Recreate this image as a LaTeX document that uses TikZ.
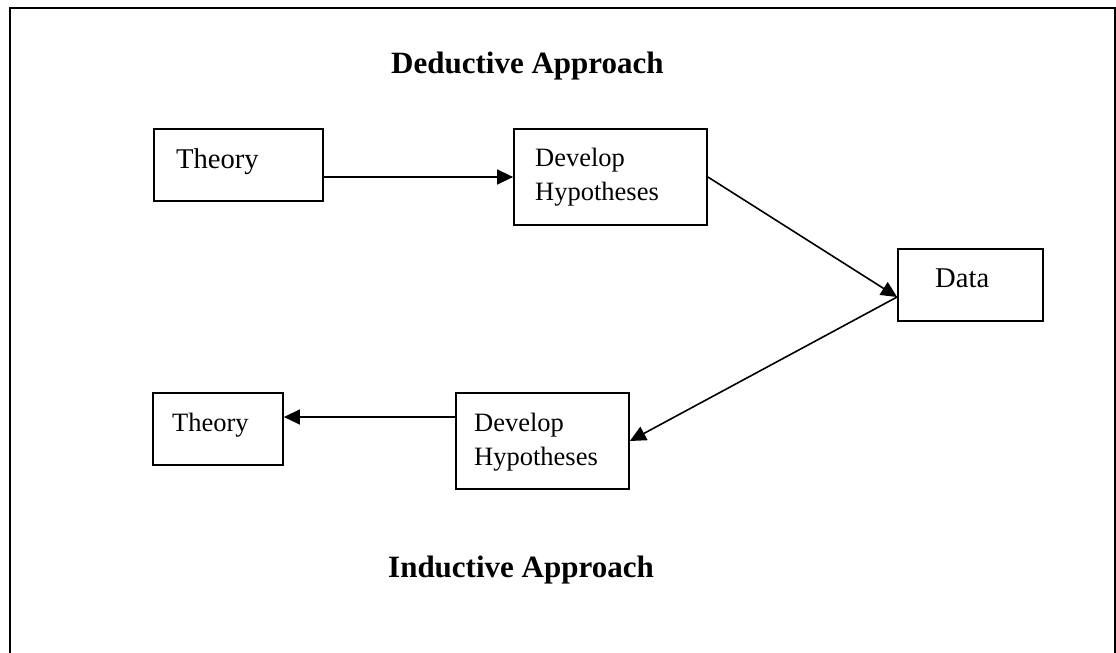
\documentclass[tikz,border=0pt]{standalone}
\usepackage{fontspec}
\setmainfont{Liberation Serif}
\usetikzlibrary{arrows.meta}
\begin{document}
\begin{tikzpicture}[x=1pt,y=-1pt,
  box/.style={draw=black,line width=1.8pt,rectangle,inner sep=0pt},
  lbl/.style={inner sep=0pt,anchor=base west,align=left,
    font=\fontsize{26.5}{34}\selectfont},
  biglbl/.style={lbl,font=\fontsize{28.6}{34}\selectfont},
  heading/.style={inner sep=0pt,anchor=base west,
    font=\fontsize{31}{36}\selectfont\bfseries},
  link/.style={line width=1.6pt,-{Triangle[length=16pt,width=15pt]}},
  plain/.style={line width=1.6pt}]
\useasboundingbox (0,0) rectangle (1116,653);
\begin{scope}
  \clip (0,0) rectangle (1116,653);
  % outer frame, open at the bottom edge
  \draw[line width=2.2pt] (10,720) -- (10,8) -- (1115,8) -- (1115,720);
\end{scope}

% boxes
\node[box,minimum width=169pt,minimum height=72pt] (th1) at (238.5,165) {};
\node[box,minimum width=193pt,minimum height=96pt] (dev1) at (610.5,177) {};
\node[box,minimum width=145pt,minimum height=72pt] (data) at (970.5,285) {};
\node[box,minimum width=173pt,minimum height=96pt] (dev2) at (542.5,441) {};
\node[box,minimum width=130pt,minimum height=72pt] (th2) at (218,429) {};

% texts (multi-line labels are placed by the baseline of their last line)
\node[heading] (tdeduct) at (391,73) {Deductive Approach};
\node[heading] (tinduct) at (388,577) {Inductive Approach};
\node[biglbl] (l1) at (176,168) {Theory};
\node[lbl] (l2) at (535,200) {Develop\\Hypotheses};
\node[biglbl] (l3) at (935,287) {Data};
\node[lbl] (l4) at (474,465) {Develop\\Hypotheses};
\node[lbl] (l5) at (172,431) {Theory};

% connectors
\coordinate (dj) at ([yshift=-12pt]data.west);
\draw[link] (th1.east |- dev1.west) -- (dev1.west);
\draw[link] (dev1.east) -- (dj);
\draw[link] (dj) -- (dev2.east);
\draw[link] ([yshift=12pt]th2.east -| dev2.west) -- ([yshift=12pt]th2.east);
\end{tikzpicture}
\end{document}
